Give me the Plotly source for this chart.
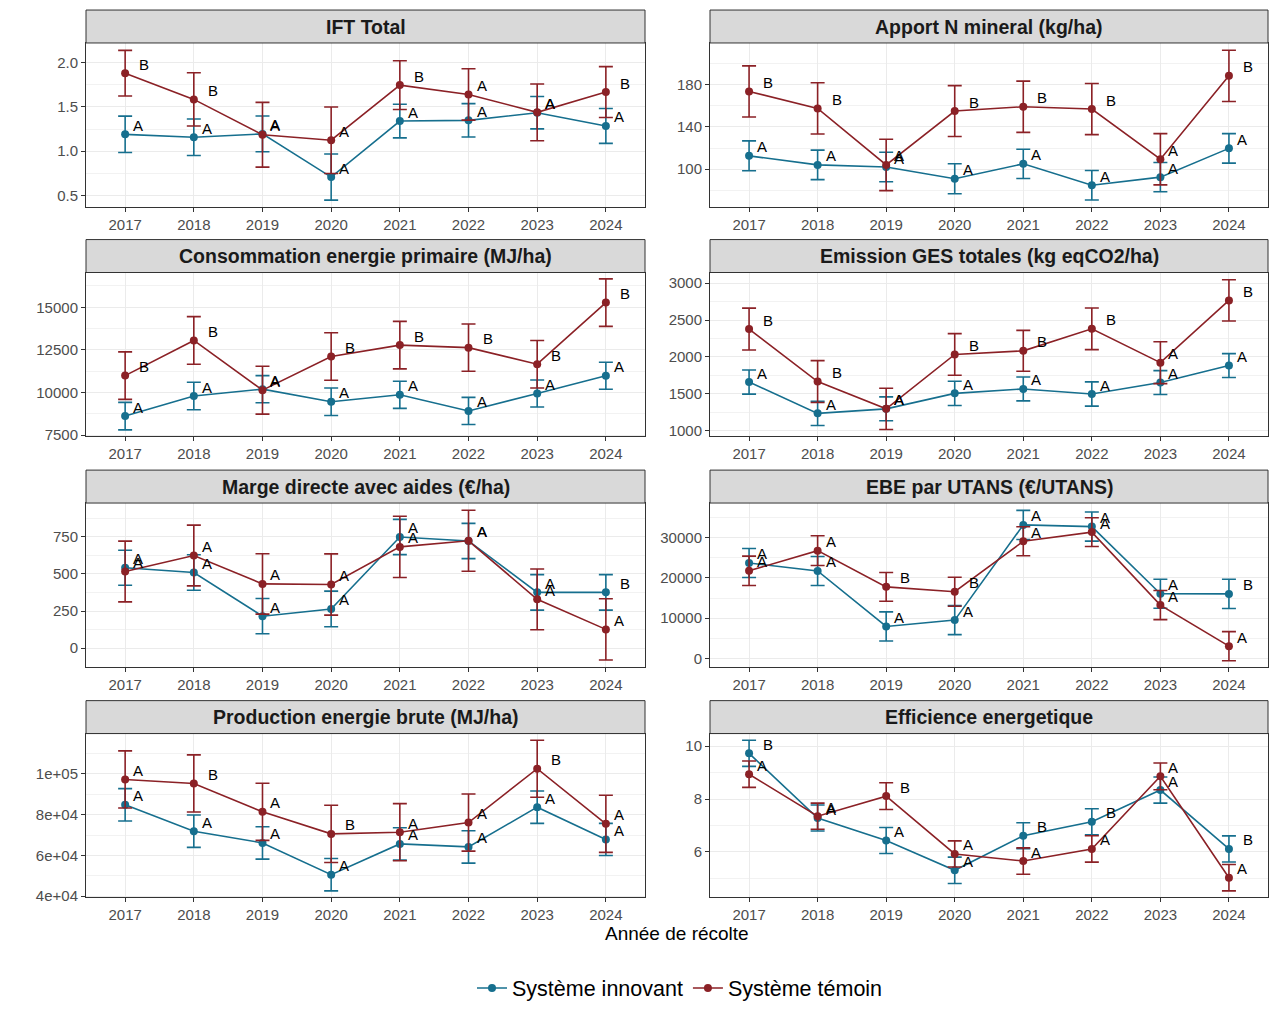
import plotly.graph_objects as go

# the page body adds an 8px margin; the figure is laid out in reference pixels minus OFF
OFF = 8
W, H = 1280 - 2 * OFF, 1025 - 2 * OFF - 8
KY = 1.006  # small vertical correction observed between page and screenshot

years = [2017, 2018, 2019, 2020, 2021, 2022, 2023, 2024]
series_names = ["Système innovant", "Système témoin"]
colors = ["#166F8E", "#8B2126"]

titles = [
    "IFT Total", "Apport N mineral (kg/ha)",
    "Consommation energie primaire (MJ/ha)", "Emission GES totales (kg eqCO2/ha)",
    "Marge directe avec aides (€/ha)", "EBE par UTANS (€/UTANS)",
    "Production energie brute (MJ/ha)", "Efficience energetique",
]

# Système innovant (mean, half error bar, letters)
inno_vals = [
    [1.19, 1.157, 1.195, 0.708, 1.34, 1.348, 1.434, 1.285],
    [112.6, 104, 102, 90.9, 105, 84.7, 92.4, 119.7],
    [8617, 9796, 10198, 9462, 9865, 8922, 9943, 10984],
    [1660, 1236, 1297, 1507, 1567, 1498, 1653, 1883],
    [542, 510, 215, 264, 750, 723, 376, 376],
    [23726, 21732, 7937, 9516, 33199, 32784, 16081, 16040],
    [84840, 71890, 66150, 50580, 65660, 64190, 83690, 67870],
    [9.73, 7.28, 6.43, 5.30, 6.61, 7.14, 8.34, 6.11],
]
inno_err = [
    [0.205, 0.206, 0.202, 0.26, 0.19, 0.188, 0.182, 0.197],
    [14.2, 14.0, 14.0, 14.2, 13.9, 14.0, 13.9, 14.0],
    [805, 805, 795, 805, 795, 795, 795, 795],
    [164, 164, 162, 164, 162, 164, 162, 162],
    [118, 120, 119, 120, 119, 119, 120, 120],
    [3615, 3615, 3615, 3615, 3615, 3615, 3615, 3657],
    [7950, 7950, 7950, 7950, 7950, 7950, 7950, 7870],
    [0.494, 0.494, 0.494, 0.5, 0.494, 0.494, 0.494, 0.494],
]
inno_letters = [
    ["A", "A", "A", "A", "A", "A", "A", "A"],
    ["A", "A", "A", "A", "A", "A", "A", "A"],
    ["A", "A", "A", "A", "A", "A", "A", "A"],
    ["A", "A", "A", "A", "A", "A", "A", "A"],
    ["A", "A", "A", "A", "A", "A", "A", "B"],
    ["A", "A", "A", "A", "A", "A", "A", "B"],
    ["A", "A", "A", "A", "A", "A", "A", "A"],
    ["B", "A", "A", "A", "B", "B", "A", "B"],
]

# Système témoin
temo_vals = [
    [1.88, 1.584, 1.185, 1.124, 1.745, 1.64, 1.438, 1.667],
    [173.7, 157.6, 104, 155.1, 159.2, 157, 109.4, 188.5],
    [10993, 13056, 10139, 12113, 12781, 12633, 11661, 15275],
    [2378, 1667, 1297, 2034, 2083, 2381, 1923, 2766],
    [517, 625, 433, 429, 683, 724, 329, 126],
    [21773, 26800, 17784, 16580, 29127, 31413, 13256, 3035],
    [97300, 95330, 81400, 70580, 71400, 76150, 102540, 75500],
    [8.94, 7.35, 8.11, 5.92, 5.65, 6.11, 8.86, 5.02],
]
temo_err = [
    [0.257, 0.30, 0.365, 0.375, 0.275, 0.29, 0.32, 0.287],
    [24.3, 24.3, 24.4, 24.1, 24.3, 24.3, 24.3, 24.3],
    [1394, 1394, 1404, 1394, 1394, 1385, 1394, 1394],
    [284, 284, 279, 282, 277, 282, 284, 279],
    [205, 205, 204, 207, 207, 206, 205, 207],
    [3656, 3698, 3573, 3615, 3615, 3573, 3615, 3615],
    [14010, 14010, 14010, 14010, 14010, 14010, 14010, 14010],
    [0.50, 0.494, 0.506, 0.494, 0.5, 0.5, 0.506, 0.5],
]
temo_letters = [
    ["B", "B", "A", "A", "B", "A", "A", "B"],
    ["B", "B", "A", "B", "B", "B", "A", "B"],
    ["B", "B", "A", "B", "B", "B", "B", "B"],
    ["B", "B", "A", "B", "B", "B", "A", "B"],
    ["A", "A", "A", "A", "A", "A", "A", "A"],
    ["A", "A", "B", "B", "A", "A", "A", "A"],
    ["A", "B", "A", "B", "A", "A", "B", "A"],
    ["A", "A", "B", "A", "A", "A", "A", "A"],
]

# y axis settings per panel
y_ranges = [
    [0.375, 2.22], [64.4, 219.7], [7440, 17040], [927, 3144],
    [-126, 979], [-2080, 38640], [39500, 119800], [4.28, 10.48],
]
y_tickvals = [
    [0.5, 1.0, 1.5, 2.0], [100, 140, 180], [7500, 10000, 12500, 15000],
    [1000, 1500, 2000, 2500, 3000], [0, 250, 500, 750], [0, 10000, 20000, 30000],
    [40000, 60000, 80000, 100000], [6, 8, 10],
]
y_ticktext = [
    ["0.5", "1.0", "1.5", "2.0"], ["100", "140", "180"],
    ["7500", "10000", "12500", "15000"], ["1000", "1500", "2000", "2500", "3000"],
    ["0", "250", "500", "750"], ["0", "10000", "20000", "30000"],
    ["4e+04", "6e+04", "8e+04", "1e+05"], ["6", "8", "10"],
]

FONT = "Liberation Sans, Arial"

# geometry (reference pixels)
col_x = [(86, 645), (710, 1268)]
row_top = [10, 240, 471, 702]
strip_h = 33
plot_h = 164


def px(x):
    return (x - OFF) / W


def py(y):
    return 1 - (y * KY - OFF) / H


fig = go.Figure()
layout = {}
shapes = []
annotations = []

for i in range(8):
    r, c = divmod(i, 2)
    ax_id = "" if i == 0 else str(i + 1)
    xa, ya = "x" + ax_id, "y" + ax_id
    x0p, x1p = col_x[c]
    st = row_top[r]
    pt = st + strip_h
    pb = pt + plot_h
    xdom = [px(x0p), px(x1p)]
    ydom = [py(pb), py(pt)]

    tv = y_tickvals[i]
    step = tv[1] - tv[0]
    minor_vals = [tv[0] - step / 2 + k * step for k in range(len(tv) + 2)]

    layout["xaxis" + ax_id] = dict(
        domain=xdom, anchor=ya, range=[2016.43, 2024.57],
        tickvals=years, ticktext=[str(y) for y in years],
        showgrid=True, gridcolor="#EBEBEB", gridwidth=1.1,
        showline=True, mirror=True, linecolor="#333333", linewidth=1,
        ticks="outside", ticklen=4, tickcolor="#333333", tickwidth=1,
        tickfont=dict(family=FONT, size=15, color="#4D4D4D"),
        zeroline=False, fixedrange=True,
    )
    layout["yaxis" + ax_id] = dict(
        domain=ydom, anchor=xa, range=y_ranges[i],
        tickvals=tv, ticktext=y_ticktext[i],
        showgrid=True, gridcolor="#EBEBEB", gridwidth=1.1,
        minor=dict(tickvals=minor_vals, showgrid=True, gridcolor="#F2F2F2",
                   gridwidth=0.6, ticks=""),
        showline=True, mirror=True, linecolor="#333333", linewidth=1,
        ticks="outside", ticklen=4, tickcolor="#333333", tickwidth=1,
        tickfont=dict(family=FONT, size=15, color="#4D4D4D"),
        zeroline=False, fixedrange=True,
    )

    # strip
    shapes.append(dict(type="rect", xref="paper", yref="paper",
                       x0=px(x0p), x1=px(x1p), y0=py(pt), y1=py(st),
                       fillcolor="#D9D9D9", line=dict(color="#333333", width=1),
                       layer="above"))
    annotations.append(dict(xref="paper", yref="paper", x=px((x0p + x1p) / 2),
                            y=py(st + strip_h / 2), text="<b>" + titles[i] + "</b>",
                            showarrow=False, xanchor="center", yanchor="middle",
                            font=dict(family=FONT, size=19.5, color="#1A1A1A")))

    for s, (vals, errs, lets) in enumerate([(inno_vals[i], inno_err[i], inno_letters[i]),
                                            (temo_vals[i], temo_err[i], temo_letters[i])]):
        fig.add_trace(go.Scatter(
            x=years, y=vals, mode="lines+markers", xaxis=xa, yaxis=ya,
            name=series_names[s], legendgroup=series_names[s], showlegend=(i == 0),
            line=dict(color=colors[s], width=1.6),
            marker=dict(color=colors[s], size=8),
            error_y=dict(type="data", array=errs, visible=True, color=colors[s],
                         thickness=1.6, width=7),
        ))
        for yr, v, l in zip(years, vals, lets):
            annotations.append(dict(
                x=yr, y=v, xref=xa, yref=ya, text=l, showarrow=False,
                xanchor="center", yanchor="middle",
                xshift=13 if l == "A" else 19, yshift=9,
                font=dict(family=FONT, size=15, color="#000000"),
            ))

annotations.append(dict(xref="paper", yref="paper", x=px(677), y=py(935),
                        text="Année de récolte", showarrow=False,
                        xanchor="center", yanchor="middle",
                        font=dict(family=FONT, size=19, color="#000000")))

fig.update_layout(
    **layout,
    width=W, height=H,
    margin=dict(l=0, r=0, t=0, b=0),
    paper_bgcolor="white", plot_bgcolor="white",
    shapes=shapes, annotations=annotations,
    showlegend=True,
    legend=dict(orientation="h", x=px(680), xanchor="center", y=py(990),
                yanchor="middle", font=dict(family=FONT, size=21.5, color="#000000"),
                itemwidth=30, bgcolor="rgba(0,0,0,0)"),
)

fig.write_html("out.html")
